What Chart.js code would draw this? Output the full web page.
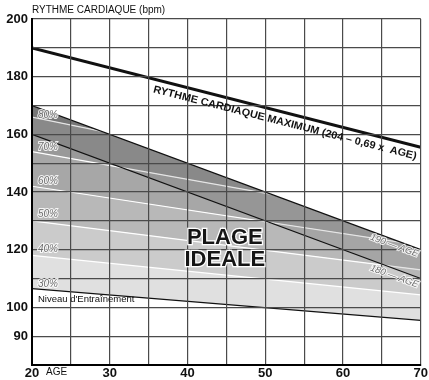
<!DOCTYPE html>
<html>
<head>
<meta charset="utf-8">
<script src="https://cdn.jsdelivr.net/npm/chart.js@4.4.1/dist/chart.umd.min.js"></script>
<style>
  html, body { margin: 0; padding: 0; background: #fff; }
  #wrap { width: 429px; height: 380px; }
</style>
</head>
<body>
<div id="wrap"><canvas id="chart"></canvas></div>
<script>
// DONNEES (age -> bpm)
const ages = [20, 70];
const maxHR = [190, 155.5];     // 204 - 0,69 x AGE
const hr190 = [170, 120];       // 190 - AGE
const hr180 = [160, 110];       // 180 - AGE
const pct80 = [166, 138.5];
const pct70 = [154, 130];
const pct60 = [142, 121.5];
const pct50 = [130, 113];
const pct40 = [118, 104.3];
const niveau = [106.5, 95.5];   // 30% / niveau d'entrainement

const xTickLabels = [20, 30, 40, 50, 60, 70];
const yTickLabels = [90, 100, 120, 140, 160, 180, 200];

const pctLabels = ["80%", "70%", "60%", "50%", "40%", "30%"];
const pctLabelY = [166.6, 155.5, 143.8, 132.4, 120, 107.9];

function pts(arr) {
  return ages.map((a, i) => ({ x: a, y: arr[i] }));
}

function line(data, color, width, fill, bg, order) {
  return {
    data: pts(data),
    borderColor: color,
    borderWidth: width,
    pointRadius: 0,
    tension: 0,
    fill: fill,
    backgroundColor: bg,
    order: order
  };
}

// textes par-dessus le graphique
const labelsPlugin = {
  id: "labels",
  afterDraw(chart) {
    const ctx = chart.ctx;
    const x = chart.scales.x;
    const y = chart.scales.y;
    ctx.save();

    ctx.fillStyle = "#111";
    ctx.font = "10px 'Liberation Sans', Arial, sans-serif";
    ctx.textBaseline = "middle";
    ctx.textAlign = "left";
    ctx.fillText("RYTHME CARDIAQUE (bpm)", chart.chartArea.left, 10);
    ctx.fillText("AGE", 46, 372);

    // rythme cardiaque maximum, le long de la ligne
    const x1 = x.getPixelForValue(ages[0]), y1 = y.getPixelForValue(maxHR[0]);
    const x2 = x.getPixelForValue(ages[1]), y2 = y.getPixelForValue(maxHR[1]);
    const ang = Math.atan2(y2 - y1, x2 - x1);
    const a0 = 35.8;
    const px = x.getPixelForValue(a0);
    const py = y.getPixelForValue(maxHR[0] + (maxHR[1] - maxHR[0]) * (a0 - ages[0]) / (ages[1] - ages[0]));
    ctx.save();
    ctx.translate(px, py + 5);
    ctx.rotate(ang);
    ctx.font = "bold 10.5px 'Liberation Sans', Arial, sans-serif";
    ctx.textBaseline = "top";
    const txt = "RYTHME CARDIAQUE MAXIMUM (204 – 0,69 x  AGE)";
    const w = ctx.measureText(txt).width;
    const target = (x.getPixelForValue(69.6) - px) / Math.cos(ang);
    ctx.scale(target / w, 1);
    ctx.fillStyle = "#111";
    ctx.fillText(txt, 0, 0);
    ctx.restore();

    // pourcentages
    ctx.font = "italic 10px 'Liberation Sans', Arial, sans-serif";
    ctx.lineWidth = 2;
    ctx.strokeStyle = "rgba(255,255,255,0.85)";
    ctx.fillStyle = "#6e6e6e";
    pctLabels.forEach((t, i) => {
      const ly = y.getPixelForValue(pctLabelY[i]);
      ctx.strokeText(t, 38, ly);
      ctx.fillText(t, 38, ly);
    });

    ctx.fillStyle = "#111";
    ctx.font = "9.5px 'Liberation Sans', Arial, sans-serif";
    ctx.fillText("Niveau d'Entraînement", 38, y.getPixelForValue(102.8));

    // 190 - AGE / 180 - AGE
    const ang2 = Math.atan2(y.getPixelForValue(hr190[1]) - y.getPixelForValue(hr190[0]),
      x.getPixelForValue(ages[1]) - x.getPixelForValue(ages[0]));
    [["190 — AGE", 121.4], ["180 — AGE", 110.7]].forEach(([t, v]) => {
      ctx.save();
      ctx.translate(x.getPixelForValue(66.6), y.getPixelForValue(v));
      ctx.rotate(ang2);
      ctx.textAlign = "center";
      ctx.font = "italic 9.5px 'Liberation Sans', Arial, sans-serif";
      ctx.strokeText(t, 0, 0);
      ctx.fillStyle = "#6e6e6e";
      ctx.fillText(t, 0, 0);
      ctx.restore();
    });

    // PLAGE IDEALE
    ctx.textAlign = "center";
    ctx.font = "bold 22px 'Liberation Sans', Arial, sans-serif";
    ctx.lineWidth = 2.5;
    ctx.strokeStyle = "#fff";
    ctx.fillStyle = "#151515";
    [["PLAGE", 124], ["IDEALE", 116.5]].forEach(([t, v]) => {
      const ty = y.getPixelForValue(v);
      const tx = x.getPixelForValue(44.8);
      ctx.strokeText(t, tx, ty);
      ctx.fillText(t, tx, ty);
    });

    ctx.restore();
  }
};

const ctx = document.getElementById("chart");

new Chart(ctx, {
  type: "line",
  data: {
    datasets: [
      line(maxHR, "#111", 3, false, "transparent", 1),
      line(hr190, "#111", 1.2, "end", "#ffffff", 2),
      line(hr180, "#111", 1.2, 1, "rgba(0,0,0,0.1)", 3),
      line(pct80, "#ffffff", 1.2, 1, "#858585", 4),
      line(pct70, "#ffffff", 1.2, 3, "#999999", 5),
      line(pct60, "#ffffff", 1.2, 4, "#a7a7a7", 6),
      line(pct50, "#ffffff", 1.2, 5, "#b8b8b8", 7),
      line(pct40, "#ffffff", 1.2, 6, "#cbcbcb", 8),
      line(niveau, "#111", 1.2, 7, "#e0e0e0", 9)
    ]
  },
  options: {
    responsive: true,
    maintainAspectRatio: false,
    animation: false,
    layout: { padding: { top: 19, right: 5, left: 0, bottom: 0 } },
    plugins: {
      legend: { display: false },
      tooltip: { enabled: false }
    },
    scales: {
      x: {
        type: "linear",
        min: 20,
        max: 70,
        grid: { color: "#4a4a4a", lineWidth: 1.2, drawTicks: false, z: 1 },
        border: { color: "#000", width: 2, z: 2 },
        ticks: {
          stepSize: 5,
          autoSkip: false,
          maxRotation: 0,
          padding: 1,
          color: "#111",
          font: { family: "'Liberation Sans', Arial, sans-serif", size: 13, weight: "bold" },
          callback: (v) => (xTickLabels.includes(v) ? String(v) : "")
        },
        afterFit(s) { s.height = 15; }
      },
      y: {
        min: 80,
        max: 200,
        grid: { color: "#4a4a4a", lineWidth: 1.2, drawTicks: false, z: 1 },
        border: { color: "#000", width: 2, z: 2 },
        ticks: {
          stepSize: 10,
          autoSkip: false,
          padding: 4,
          color: "#111",
          font: { family: "'Liberation Sans', Arial, sans-serif", size: 13, weight: "bold" },
          callback: (v) => (yTickLabels.includes(v) ? String(v) : "")
        },
        afterFit(s) { s.width = 32; }
      }
    }
  },
  plugins: [labelsPlugin]
});
</script>
</body>
</html>
